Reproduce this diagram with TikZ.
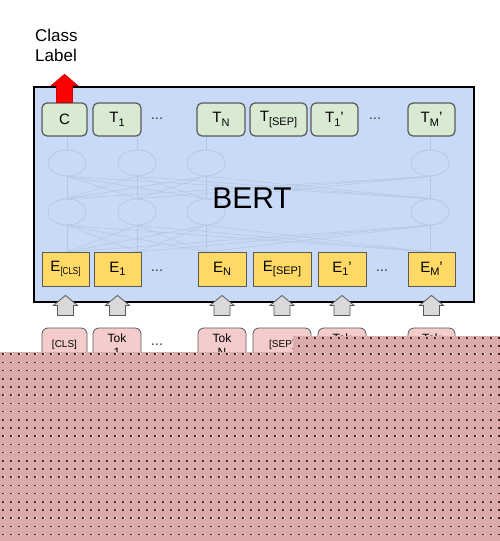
\documentclass[tikz,border=0pt]{standalone}
\usepackage{fontspec}
\setmainfont{Liberation Sans}
\usetikzlibrary{calc, shapes.geometric}

\definecolor{bertblue}{HTML}{C9DAF8}
\definecolor{outgreen}{HTML}{D9EAD3}
\definecolor{embyellow}{HTML}{FFD966}
\definecolor{tokpink}{HTML}{F4CCCC}
\definecolor{arrowgray}{HTML}{D9D9D9}
\definecolor{edgegray}{HTML}{595959}
\definecolor{ghost}{HTML}{B4C6E0}
\definecolor{noisepink}{HTML}{DCAAAA}
\definecolor{noisedark}{HTML}{4A2828}

\newcommand{\lsub}[1]{\raisebox{-3.5pt}{\fontsize{11}{11}\selectfont #1}}
\newcommand{\tinysub}[1]{\raisebox{-3.5pt}{\fontsize{10}{10}\selectfont\scalebox{0.8}[1]{#1}}}

\begin{document}
\begin{tikzpicture}[x=1pt, y=-1pt, font=\fontsize{15}{15}\selectfont,
    tbox/.style={draw=edgegray, line width=1.2pt, fill=outgreen, rounded corners=5pt,
        minimum height=33pt, inner sep=0pt},
    ebox/.style={draw=edgegray, line width=0.8pt, fill=embyellow,
        minimum height=34pt, inner sep=0pt},
    tokbox/.style={draw=edgegray, line width=0.8pt, fill=tokpink, rounded corners=6pt,
        minimum height=34pt, inner sep=0pt, align=center, font=\fontsize{12}{14}\selectfont},
    dotsnode/.style={text=black!75, inner sep=0pt},
    ghostnode/.style={ellipse, draw=ghost, line width=0.7pt, minimum width=38pt, minimum height=26pt},
    ghostline/.style={draw=ghost, line width=0.5pt},
    grayarrow/.style={draw=edgegray, line width=0.8pt, fill=arrowgray},
    redarrow/.style={draw=red!80!black, line width=0.8pt, fill=red}]
    \useasboundingbox (0,0) rectangle (500,541);

    % label on top
    \node[anchor=north west, inner sep=0pt, align=left, font=\fontsize{17}{20}\selectfont]
        (classlabel) at (35,29) {Class\\Label};

    % the encoder box
    \draw[line width=2pt, fill=bertblue] (34,87) rectangle (474,302);

    % faint network inside
    \foreach \x [count=\i] in {67,137,206,430} {
        \node[ghostnode] (up\i) at (\x,163) {};
        \node[ghostnode] (lo\i) at (\x,212) {};
        \coordinate (top\i) at (\x,136);
        \coordinate (bot\i) at (\x,252);
        \draw[ghostline] (top\i) -- (up\i.north);
    }
    \foreach \i in {1,...,4} {
        \foreach \j in {1,...,4} {
            \draw[ghostline] (up\i.south) -- (lo\j.north);
            \draw[ghostline] (lo\i.south) -- (bot\j);
        }
    }

    \node[font=\fontsize{30}{30}\selectfont] (bert) at (252,198) {BERT};

    % output row
    \node[tbox, minimum width=45pt] (c) at (64.5,119.5) {C};
    \node[tbox, minimum width=48pt] (t1) at (117,119.5) {T\lsub{1}};
    \node[dotsnode] (tdotsA) at (157,119) {...};
    \node[tbox, minimum width=48pt] (tn) at (221,119.5) {T\lsub{N}};
    \node[tbox, minimum width=57pt] (tsep) at (278.5,119.5) {T\lsub{[SEP]}};
    \node[tbox, minimum width=47pt] (t1p) at (334.5,119.5) {T\lsub{1}'};
    \node[dotsnode] (tdotsB) at (375,119) {...};
    \node[tbox, minimum width=47pt] (tmp) at (431.5,119.5) {T\lsub{M}'};

    % embedding row
    \node[ebox, minimum width=47pt] (ecls) at (65.5,269) {E\tinysub{[CLS]}};
    \node[ebox, minimum width=47pt] (e1) at (117.5,269) {E\lsub{1}};
    \node[dotsnode] (edotsA) at (157,271) {...};
    \node[ebox, minimum width=48pt] (en) at (222,269) {E\lsub{N}};
    \node[ebox, minimum width=58pt] (esep) at (282,269) {E\lsub{[SEP]}};
    \node[ebox, minimum width=48pt] (e1p) at (342,269) {E\lsub{1}'};
    \node[dotsnode] (edotsB) at (382,271) {...};
    \node[ebox, minimum width=47pt] (emp) at (431.5,269) {E\lsub{M}'};

    % input tokens
    \node[tokbox, minimum width=45pt, font=\fontsize{10}{12}\selectfont] (tokcls) at (64.5,345) {[CLS]};
    \node[tokbox, minimum width=48pt] (tok1) at (117,345) {Tok\\1};
    \node[dotsnode] (tokdotsA) at (157,345) {...};
    \node[tokbox, minimum width=48pt] (tokn) at (222,345) {Tok\\N};
    \node[tokbox, minimum width=58pt, font=\fontsize{10}{12}\selectfont] (toksep) at (282,345) {[SEP]};
    \node[tokbox, minimum width=48pt] (tok1p) at (342,345) {Tok\\1'};
    \node[dotsnode] (tokdotsB) at (382,345) {...};
    \node[tokbox, minimum width=47pt] (tokmp) at (431.5,345) {Tok\\M'};

    % block arrows
    \draw[redarrow] ($(c.north)+(-8,0)$) -- ++(0,-17) -- ++(-5,0) -- ++(13,-11)
        -- ++(13,11) -- ++(-5,0) -- ++(0,17) -- cycle;
    \foreach \n in {ecls,e1,en,esep,e1p,emp} {
        \draw[grayarrow] ($(\n.south)+(0,9)$) -- ++(12,10) -- ++(-4,0) -- ++(0,10)
            -- ++(-16,0) -- ++(0,-10) -- ++(-4,0) -- cycle;
    }

    % dotted noise over the lower part
    \begin{scope}
        \clip (0,352) rectangle (500,541) (293,336) rectangle (500,352);
        \fill[noisepink] (0,336) rectangle (500,541);
        \foreach \i in {0,...,62} {
            \foreach \j in {0,...,25} {
                \fill[noisedark] (\i*8+2,\j*8.2+337) rectangle ++(1.5,1.5);
                \fill[white!85!noisepink] (\i*8+3.5,\j*8.2+337) rectangle ++(1.2,1.2);
            }
        }
    \end{scope}
\end{tikzpicture}
\end{document}
